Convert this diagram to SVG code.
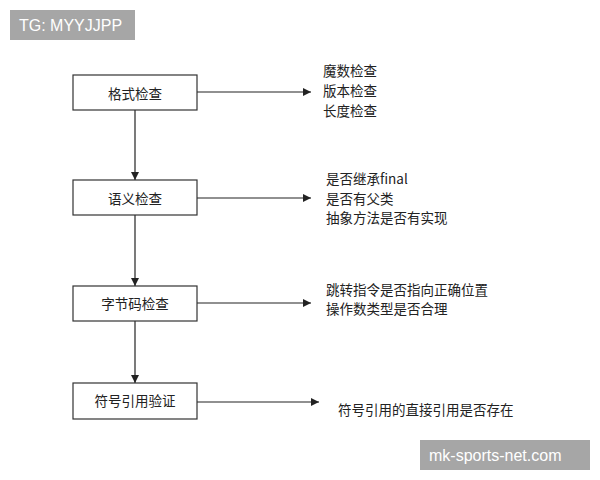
<svg xmlns="http://www.w3.org/2000/svg" width="600" height="480" viewBox="0 0 600 480">
<style>
.box{fill:#fff;stroke:#333;stroke-width:1.2}
.t{font-family:"Noto Sans CJK SC","Liberation Sans",sans-serif;font-size:13.5px;fill:#222;dominant-baseline:central}
.c{stroke:#222;stroke-width:1.2;fill:none;marker-end:url(#a)}
.wm{font-family:"Liberation Sans",sans-serif;font-size:16px;fill:#fff;dominant-baseline:central}
</style>
<defs><marker id="a" viewBox="0 0 10 10" refX="10" refY="5" markerWidth="8" markerHeight="8" markerUnits="userSpaceOnUse" orient="auto"><path d="M0,0L10,5L0,10z" fill="#222"/></marker></defs>
<rect width="600" height="480" fill="#fff"/>
<g id="connectors">
<line class="c" x1="135" y1="110" x2="135" y2="180"/>
<line class="c" x1="135" y1="215" x2="135" y2="286"/>
<line class="c" x1="135" y1="321" x2="135" y2="383"/>
<line class="c" x1="197" y1="92" x2="311" y2="92"/>
<line class="c" x1="197" y1="198" x2="311" y2="198"/>
<line class="c" x1="197" y1="303" x2="311" y2="303"/>
<line class="c" x1="197" y1="402" x2="319" y2="402"/>
</g>
<g id="n1"><rect class="box" x="73" y="75" width="124" height="35"/><text class="t" x="135" y="92.5" text-anchor="middle">格式检查</text></g>
<g id="n2"><rect class="box" x="73" y="180" width="124" height="35"/><text class="t" x="135" y="198" text-anchor="middle">语义检查</text></g>
<g id="n3"><rect class="box" x="73" y="286" width="124" height="35"/><text class="t" x="135" y="303" text-anchor="middle">字节码检查</text></g>
<g id="n4"><rect class="box" x="73" y="383" width="124" height="36"/><text class="t" x="135" y="400" text-anchor="middle">符号引用验证</text></g>
<g id="l1"><text class="t" x="323" y="70">魔数检查</text><text class="t" x="323" y="90">版本检查</text><text class="t" x="323" y="110">长度检查</text></g>
<g id="l2"><text class="t" x="326" y="178">是否继承final</text><text class="t" x="326" y="198">是否有父类</text><text class="t" x="326" y="217">抽象方法是否有实现</text></g>
<g id="l3"><text class="t" x="326" y="289">跳转指令是否指向正确位置</text><text class="t" x="326" y="308">操作数类型是否合理</text></g>
<g id="l4"><text class="t" x="338" y="409">符号引用的直接引用是否存在</text></g>
<rect x="10" y="10" width="125" height="30" fill="#a6a6a6"/><text class="wm" x="19" y="25">TG: MYYJJPP</text>
<rect x="420" y="440" width="170" height="30" fill="#a6a6a6"/><text class="wm" x="429" y="455">mk-sports-net.com</text>
</svg>
